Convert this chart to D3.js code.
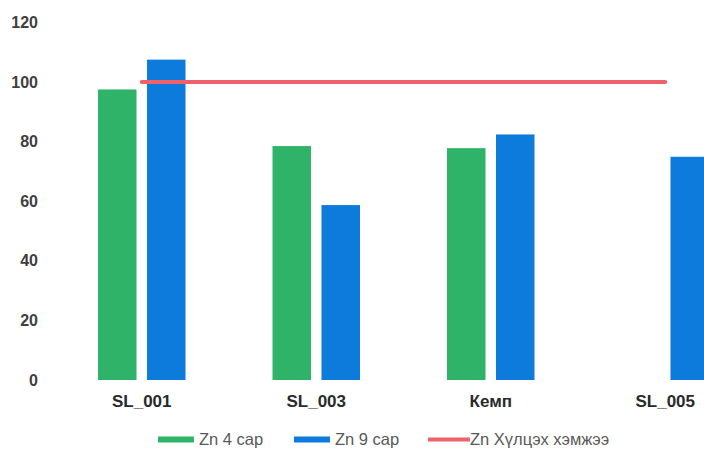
<!DOCTYPE html>
<html><head><meta charset="utf-8">
<script src="https://cdn.jsdelivr.net/npm/d3@7"></script>
<style>body{margin:0;background:#fff;}svg{display:block;}</style>
</head><body>
<svg id="c" width="704" height="450"></svg>
<script>
const categories = ["SL_001", "SL_003", "Кемп", "SL_005"];
const zn4 = [97.5, 78.5, 77.8, null];
const zn9 = [107.5, 58.7, 82.4, 74.9];
const limit = [100, 100, 100, 100];
const yTicks = [0, 20, 40, 60, 80, 100, 120];
const seriesNames = ["Zn 4 сар", "Zn 9 сар", "Zn Хүлцэх хэмжээ"];
const colors = ["#2eb368", "#0d7bdc", "#f0616c"];

const svg = d3.select("#c");
const y = d3.scaleLinear().domain([0, 120]).range([380, 22.4]);
const x = d3.scaleBand().domain(categories).range([54.5, 752.5]).padding(0);
const x1 = d3.scaleBand().domain([0, 1]).range([0, x.bandwidth()]).paddingInner(0.214).paddingOuter(0.888);

// y tick labels
const yAxis = d3.axisLeft(y).tickValues(yTicks).tickSize(0).tickPadding(0);
const ga = svg.append("g").attr("transform", "translate(38,0)").call(yAxis);
ga.select(".domain").remove();
ga.selectAll("text").attr("font-family", "Liberation Sans, Arial, sans-serif")
  .attr("font-size", 16).attr("font-weight", "bold").attr("fill", "#404040");

// bars
const seriesVals = [zn4, zn9];
seriesVals.forEach((vals, si) => {
  svg.append("g").selectAll("rect")
    .data(categories.map((c, i) => ({c, v: vals[i]})).filter(d => d.v != null))
    .join("rect")
    .attr("x", d => x(d.c) + x1(si))
    .attr("width", x1.bandwidth())
    .attr("y", d => y(d.v))
    .attr("height", d => y(0) - y(d.v))
    .attr("fill", colors[si]);
});

// limit line
const line = d3.line().x((d, i) => x(categories[i]) + x.bandwidth() / 2).y(d => y(d));
svg.append("path").datum(limit).attr("d", line)
  .attr("fill", "none").attr("stroke", colors[2]).attr("stroke-width", 4).attr("stroke-linecap", "round");

// x labels
const xAxis = d3.axisBottom(x).tickSize(0).tickPadding(0);
const gx = svg.append("g").attr("transform", "translate(0,395)").call(xAxis);
gx.select(".domain").remove();
gx.selectAll("text").attr("dy", "0.72em").attr("font-family", "Liberation Sans, Arial, sans-serif")
  .attr("font-size", 17).attr("font-weight", "bold").attr("fill", "#2a2a2a");

// legend
const legendX = [158, 294, 428];
const lg = svg.append("g").selectAll("g").data(seriesNames).join("g")
  .attr("transform", (d, i) => `translate(${legendX[i]},439.5)`);
lg.append("line").attr("x1", 0).attr("x2", (d, i) => i === 2 ? 42 : 36).attr("y1", 0).attr("y2", 0)
  .attr("stroke", (d, i) => colors[i]).attr("stroke-width", (d, i) => i === 2 ? 4 : 6);
lg.append("text").attr("x", (d, i) => i === 2 ? 42 : 41).attr("y", 0).attr("dy", "0.36em")
  .attr("font-family", "Liberation Sans, Arial, sans-serif").attr("font-size", 16.5)
  .attr("fill", "#595959").text(d => d);
</script>
</body></html>
